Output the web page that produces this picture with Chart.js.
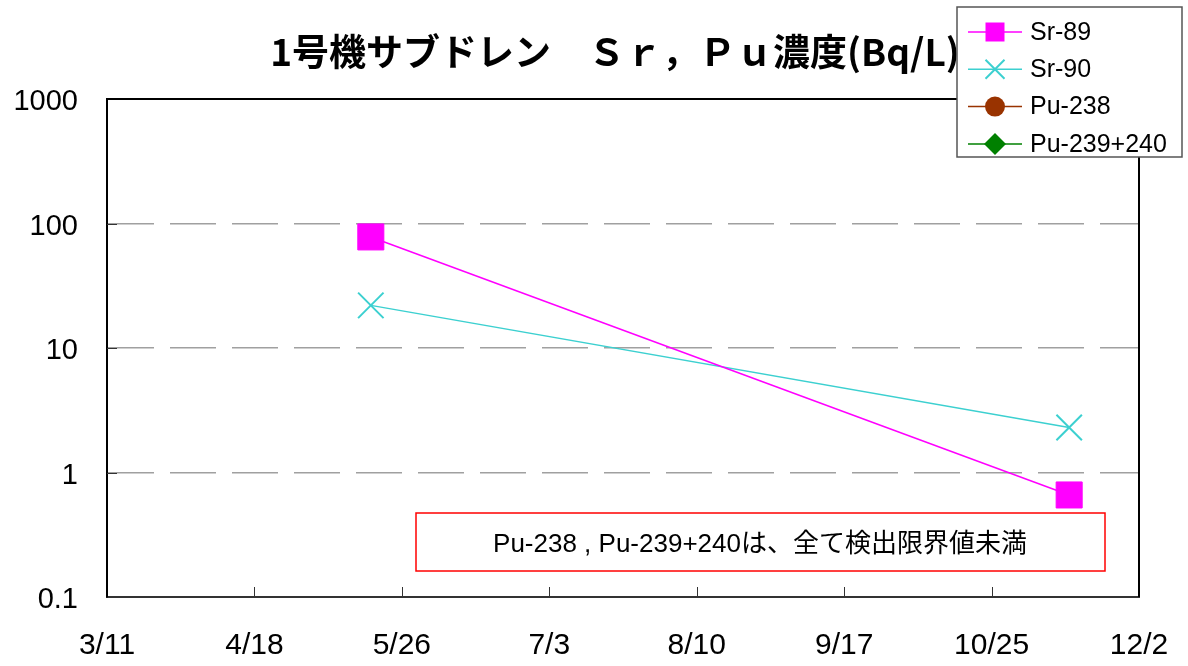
<!DOCTYPE html>
<html>
<head>
<meta charset="utf-8">
<script src="https://cdn.jsdelivr.net/npm/chart.js@4.4.1/dist/chart.umd.min.js"></script>
<style>
body { margin: 0; background: #fff; }
#wrap { width: 1188px; height: 666px; }
</style>
</head>
<body>
<div id="wrap"><canvas id="myChart" width="1188" height="666"></canvas></div>
<script>
// day 0 = 3/11
var startDate = Date.UTC(2011, 2, 11);
var xTickLabels = ["3/11", "4/18", "5/26", "7/3", "8/10", "9/17", "10/25", "12/2"];
var xTickStep = 38;
var yTickValues = [0.1, 1, 10, 100, 1000];
var yTickLabels = ["0.1", "1", "10", "100", "1000"];

var sampleDates = ["2011/5/18", "2011/11/14"];
var sr89 = [78, 0.66];
var sr90 = [22, 2.3];
var pu238 = [];
var pu239 = [];

var seriesNames = ["Sr-89", "Sr-90", "Pu-238", "Pu-239+240"];
var noteText = "Pu-238 , Pu-239+240は、全て検出限界値未満";
var titleText = "1号機サブドレン　Ｓｒ，Ｐｕ濃度(Bq/L)";

function dayOf(s) {
    var p = s.split("/");
    return Math.round((Date.UTC(+p[0], +p[1] - 1, +p[2]) - startDate) / 86400000);
}
function points(vals) {
    var out = [];
    for (var i = 0; i < vals.length; i++) {
        out.push({x: dayOf(sampleDates[i]), y: vals[i]});
    }
    return out;
}

var fontLatin = "'Liberation Sans', Arial, 'Noto Sans CJK JP', sans-serif";

function marker(ctx, style, x, y, r, color) {
    ctx.save();
    ctx.fillStyle = color;
    ctx.strokeStyle = color;
    ctx.lineWidth = 2;
    ctx.beginPath();
    if (style == 'rect') {
        ctx.rect(x - r, y - r, 2 * r, 2 * r);
        ctx.fill();
    } else if (style == 'crossRot') {
        ctx.moveTo(x - r, y - r); ctx.lineTo(x + r, y + r);
        ctx.moveTo(x - r, y + r); ctx.lineTo(x + r, y - r);
        ctx.stroke();
    } else if (style == 'circle') {
        ctx.arc(x, y, r, 0, Math.PI * 2);
        ctx.fill();
    } else if (style == 'rectRot') {
        ctx.moveTo(x, y - r); ctx.lineTo(x + r, y); ctx.lineTo(x, y + r); ctx.lineTo(x - r, y);
        ctx.closePath();
        ctx.fill();
    }
    ctx.restore();
}

var decor = {
    id: 'decor',
    afterDraw: function(chart) {
        var ctx = chart.ctx;
        var a = chart.chartArea;
        var xs = chart.scales.x, ys = chart.scales.y;
        ctx.save();
        // frame top/right
        ctx.strokeStyle = '#000';
        ctx.lineWidth = 2;
        ctx.beginPath();
        ctx.moveTo(a.left, a.top); ctx.lineTo(a.right, a.top); ctx.lineTo(a.right, a.bottom);
        ctx.stroke();
        // inward ticks
        ctx.strokeStyle = '#333';
        ctx.lineWidth = 1;
        ctx.beginPath();
        for (var i = 1; i < xTickLabels.length - 1; i++) {
            var px = Math.round(xs.getPixelForValue(i * xTickStep)) + 0.5;
            ctx.moveTo(px, a.bottom); ctx.lineTo(px, a.bottom - 10);
        }
        for (var j = 1; j < yTickValues.length - 1; j++) {
            var py = Math.round(ys.getPixelForValue(yTickValues[j])) + 0.5;
            ctx.moveTo(a.left, py); ctx.lineTo(a.left + 10, py);
        }
        ctx.stroke();

        // title
        ctx.fillStyle = '#000';
        ctx.font = "bold 37px 'Noto Sans CJK JP', sans-serif";
        ctx.textAlign = 'center';
        ctx.textBaseline = 'middle';
        ctx.fillText(titleText, 615, 52);

        // note box
        ctx.strokeStyle = '#ff0000';
        ctx.lineWidth = 1.5;
        ctx.strokeRect(416, 513, 689, 58);
        ctx.font = "26px 'Liberation Sans', 'Noto Sans CJK JP', sans-serif";
        ctx.fillText(noteText, 760, 545);

        // legend
        ctx.fillStyle = '#fff';
        ctx.fillRect(957, 7, 225, 150);
        ctx.strokeStyle = '#555';
        ctx.lineWidth = 1.5;
        ctx.strokeRect(957, 7, 225, 150);
        var sizes = [9.5, 9.5, 10, 11];
        ctx.font = "25px " + fontLatin;
        ctx.textAlign = 'left';
        chart.data.datasets.forEach(function(ds, k) {
            var ly = 32 + k * 37.3;
            ctx.strokeStyle = ds.borderColor;
            ctx.lineWidth = 1.5;
            ctx.beginPath();
            ctx.moveTo(968, ly); ctx.lineTo(1022, ly);
            ctx.stroke();
            marker(ctx, ds.pointStyle, 995, ly, sizes[k], ds.borderColor);
            ctx.fillStyle = '#000';
            ctx.fillText(ds.label, 1030, ly + 1);
        });
        ctx.restore();
    }
};

var ctx = document.getElementById("myChart");
var myChart = new Chart(ctx, {
    type: 'line',
    data: {
        datasets: [
        {
            label: seriesNames[0],
            data: points(sr89),
            borderColor: "#ff00ff",
            backgroundColor: "#ff00ff",
            borderWidth: 1.5,
            pointStyle: 'rect',
            pointRadius: 18.4,
            pointBorderWidth: 1
        },
        {
            label: seriesNames[1],
            data: points(sr90),
            borderColor: "#3cd0d0",
            backgroundColor: "#3cd0d0",
            borderWidth: 1.5,
            pointStyle: 'crossRot',
            pointRadius: 18,
            pointBorderWidth: 2
        },
        {
            label: seriesNames[2],
            data: points(pu238),
            borderColor: "#993300",
            backgroundColor: "#993300",
            pointStyle: 'circle'
        },
        {
            label: seriesNames[3],
            data: points(pu239),
            borderColor: "#008000",
            backgroundColor: "#008000",
            pointStyle: 'rectRot'
        }
        ]
    },
    options: {
        responsive: false,
        animation: false,
        layout: { padding: { top: 99, right: 49, left: 0, bottom: 0 } },
        plugins: {
            legend: { display: false },
            title: { display: false },
            tooltip: { enabled: false }
        },
        scales: {
            x: {
                type: 'linear',
                min: 0,
                max: xTickStep * (xTickLabels.length - 1),
                afterFit: function(s) { s.height = 69; s.paddingLeft = 0; s.paddingRight = 0; },
                afterBuildTicks: function(s) {
                    s.ticks = xTickLabels.map(function(l, i) { return {value: i * xTickStep}; });
                },
                ticks: {
                    color: '#000',
                    padding: 31,
                    maxRotation: 0,
                    autoSkip: false,
                    font: { family: fontLatin, size: 30 },
                    callback: function(v, i) { return xTickLabels[i]; }
                },
                grid: { display: false, drawTicks: false },
                border: { display: true, color: '#333', width: 2 }
            },
            y: {
                type: 'logarithmic',
                min: yTickValues[0],
                max: yTickValues[yTickValues.length - 1],
                afterFit: function(s) { s.width = 107; s.paddingTop = 0; s.paddingBottom = 0; },
                afterBuildTicks: function(s) {
                    s.ticks = yTickValues.map(function(v) { return {value: v}; });
                },
                ticks: {
                    color: '#000',
                    padding: 29,
                    labelOffset: 3,
                    autoSkip: false,
                    font: { family: fontLatin, size: 29 },
                    callback: function(v) { return yTickLabels[yTickValues.indexOf(v)]; }
                },
                grid: {
                    drawTicks: false,
                    lineWidth: 1.5,
                    color: function(c) {
                        var v = c.tick ? c.tick.value : 0;
                        return (v > yTickValues[0] && v < yTickValues[yTickValues.length - 1]) ? '#a0a0a0' : 'rgba(0,0,0,0)';
                    }
                },
                border: { display: true, color: '#000', width: 2, dash: [46, 16] }
            }
        }
    },
    plugins: [decor]
});
</script>
</body>
</html>
